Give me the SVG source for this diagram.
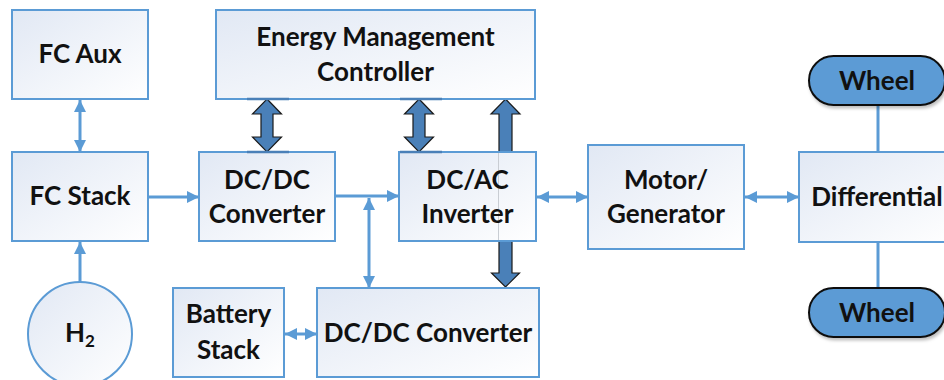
<svg xmlns="http://www.w3.org/2000/svg" width="944" height="380" viewBox="0 0 944 380">
<style>
.box{stroke:#5b9bd5;stroke-width:2;fill:url(#g)}
.t{font-family:Lato,"Liberation Sans",sans-serif;font-weight:bold;font-size:26px;fill:#111;text-anchor:middle}
.c{stroke:#5b9bd5;stroke-width:3;fill:none}
.ce{marker-end:url(#ah)}
.cb{marker-start:url(#ah);marker-end:url(#ah)}
.thick{fill:#4a80b8;stroke:#1a1a1a;stroke-width:1.2;stroke-linejoin:miter}
.hl{stroke:#4a80b8;stroke-width:2.5}
.wheel{fill:#5b9bd5;stroke:#111;stroke-width:2}
</style>
<defs>
<linearGradient id="g" x1="0" y1="0" x2="1" y2="1">
<stop offset="0" stop-color="#e1e8f4"/>
<stop offset="1" stop-color="#ffffff"/>
</linearGradient>
<marker id="ah" viewBox="0 0 10 10" refX="10" refY="5" markerWidth="4" markerHeight="4" orient="auto-start-reverse">
<path d="M0,0 L10,5 L0,10 z" fill="#5b9bd5"/>
</marker>
<filter id="sh" x="-10%" y="-20%" width="130%" height="150%">
<feDropShadow dx="1.5" dy="2.5" stdDeviation="1.5" flood-color="#000" flood-opacity="0.25"/>
</filter>
</defs>

<g id="connectors">
<line class="c cb" x1="80" y1="100" x2="80" y2="152"/>
<line class="c ce" x1="148" y1="197" x2="199" y2="197"/>
<line class="c ce" x1="80" y1="282" x2="80" y2="242"/>
<line class="c ce" x1="335" y1="196" x2="399" y2="196"/>
<line class="c cb" x1="369" y1="198" x2="369" y2="288"/>
<line class="c cb" x1="537" y1="197" x2="588" y2="197"/>
<line class="c cb" x1="745" y1="197" x2="799" y2="197"/>
<line class="c cb" x1="285" y1="334" x2="317" y2="334"/>
<line class="c" x1="878" y1="105" x2="878" y2="152"/>
<line class="c" x1="878" y1="242" x2="878" y2="288"/>
<polygon class="thick" points="267,99 281.5,114 273,114 273,137 281.5,137 267,152 252.5,137 261,137 261,114 252.5,114"/>
<polygon class="thick" points="419,99 433.5,114 425,114 425,137 433.5,137 419,152 404.5,137 413,137 413,114 404.5,114"/>
<polygon class="thick" points="505.5,99 520,114 512,114 512,273 519.5,273 505.5,287 491.5,273 499,273 499,114 491,114"/>
</g>

<g id="fc-aux">
<rect class="box" x="12" y="10" width="136" height="89"/>
<text class="t" x="80" y="63">FC Aux</text>
</g>

<g id="fc-stack">
<rect class="box" x="12" y="152" width="136" height="89"/>
<text class="t" x="80" y="205">FC Stack</text>
</g>

<g id="h2">
<circle class="box" cx="80" cy="334" r="52"/>
<text class="t" x="80" y="342">H<tspan font-size="17" dy="5">2</tspan></text>
</g>

<g id="energy-management-controller">
<rect class="box" x="216" y="10" width="319" height="89"/>
<text class="t" x="375.5" y="46">Energy Management</text>
<text class="t" x="375.5" y="81">Controller</text>
</g>

<g id="dcdc-converter-1">
<rect class="box" x="199" y="152" width="136" height="89"/>
<text class="t" x="267" y="189">DC/DC</text>
<text class="t" x="267" y="223">Converter</text>
</g>

<g id="dcac-inverter">
<rect class="box" x="399" y="152" width="137" height="89"/>
<line x1="498.5" y1="153" x2="498.5" y2="240" stroke="#c9cdd3" stroke-width="1"/>
<text class="t" x="467.5" y="189">DC/AC</text>
<text class="t" x="467.5" y="223">Inverter</text>
</g>

<g id="highlights">
<line class="hl" x1="247" y1="99" x2="289" y2="99"/>
<line class="hl" x1="247" y1="152" x2="289" y2="152"/>
<line class="hl" x1="400" y1="99" x2="442" y2="99"/>
<line class="hl" x1="400" y1="152" x2="442" y2="152"/>
</g>

<g id="motor-generator">
<rect class="box" x="588" y="145" width="156" height="104"/>
<text class="t" x="666" y="189">Motor/</text>
<text class="t" x="666" y="223">Generator</text>
</g>

<g id="differential">
<rect class="box" x="799" y="152" width="160" height="90"/>
<text class="t" x="877" y="206">Differential</text>
</g>

<g id="wheel-top">
<rect class="wheel" x="809" y="56" width="136" height="49" rx="24.5" filter="url(#sh)"/>
<text class="t" x="877" y="90">Wheel</text>
</g>

<g id="wheel-bottom">
<rect class="wheel" x="809" y="288" width="136" height="49" rx="24.5" filter="url(#sh)"/>
<text class="t" x="877" y="322">Wheel</text>
</g>

<g id="battery-stack">
<rect class="box" x="173" y="288" width="111" height="89"/>
<text class="t" x="228.5" y="323">Battery</text>
<text class="t" x="228.5" y="359">Stack</text>
</g>

<g id="dcdc-converter-2">
<rect class="box" x="317" y="288" width="222" height="89"/>
<text class="t" x="428" y="342">DC/DC Converter</text>
</g>
</svg>
